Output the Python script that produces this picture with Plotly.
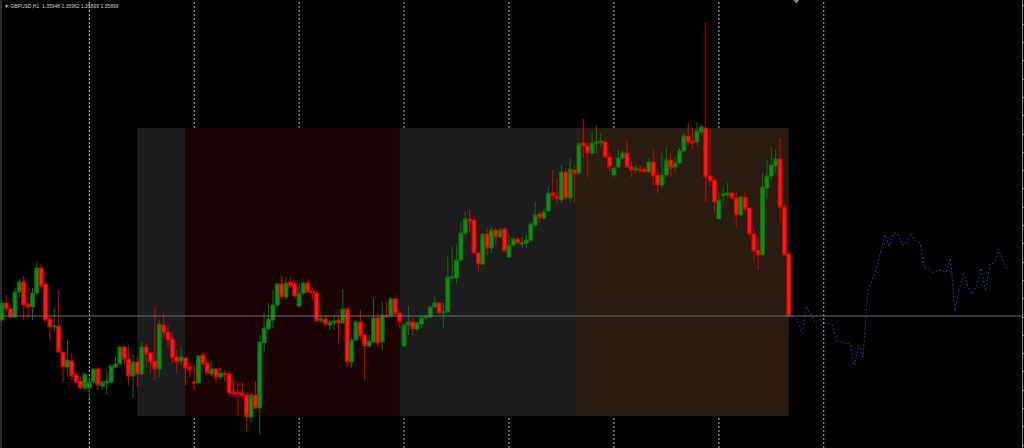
import plotly.graph_objects as go

# ---------------- data (GBPUSD H1) ----------------
open_prices = [
    1.3586, 1.3603, 1.3597, 1.3589, 1.3614, 1.3624, 1.3602, 1.3599, 1.3613, 1.3638,
    1.3622, 1.3587, 1.3579, 1.3580, 1.3554, 1.3539, 1.3545, 1.3531, 1.3525, 1.3518,
    1.3518, 1.3524, 1.3537, 1.3520, 1.3523, 1.3524, 1.3539, 1.3542, 1.3559, 1.3547,
    1.3530, 1.3544, 1.3532, 1.3559, 1.3553, 1.3545, 1.3537, 1.3581, 1.3574, 1.3567,
    1.3549, 1.3545, 1.3548, 1.3539, 1.3524, 1.3523, 1.3551, 1.3543, 1.3532, 1.3537,
    1.3529, 1.3533, 1.3532, 1.3514, 1.3514, 1.3513, 1.3511, 1.3489, 1.3511, 1.3498,
    1.3563, 1.3577, 1.3586, 1.3601, 1.3622, 1.3609, 1.3624, 1.3622, 1.3600, 1.3613,
    1.3623, 1.3615, 1.3613, 1.3585, 1.3587, 1.3581, 1.3583, 1.3586, 1.3583, 1.3597,
    1.3544, 1.3566, 1.3584, 1.3571, 1.3560, 1.3564, 1.3588, 1.3564, 1.3591, 1.3590,
    1.3607, 1.3593, 1.3560, 1.3581, 1.3584, 1.3577, 1.3582, 1.3588, 1.3589, 1.3599,
    1.3603, 1.3593, 1.3594, 1.3628, 1.3628, 1.3646, 1.3673, 1.3687, 1.3686, 1.3653,
    1.3642, 1.3672, 1.3658, 1.3676, 1.3669, 1.3677, 1.3649, 1.3661, 1.3667, 1.3662,
    1.3663, 1.3666, 1.3681, 1.3692, 1.3688, 1.3695, 1.3713, 1.3710, 1.3706, 1.3734,
    1.3708, 1.3736, 1.3733, 1.3763, 1.3760, 1.3753, 1.3762, 1.3763, 1.3764, 1.3749,
    1.3731, 1.3739, 1.3748, 1.3753, 1.3739, 1.3736, 1.3737, 1.3737, 1.3734, 1.3744,
    1.3731, 1.3721, 1.3731, 1.3746, 1.3739, 1.3743, 1.3755, 1.3770, 1.3765, 1.3764,
    1.3774, 1.3778, 1.3730, 1.3726, 1.3687, 1.3710, 1.3711, 1.3713, 1.3708, 1.3691,
    1.3709, 1.3698, 1.3672, 1.3656, 1.3651, 1.3718, 1.3730, 1.3740, 1.3747, 1.3699,
    1.3652,
]
high_prices = [
    1.3606, 1.3611, 1.3598, 1.3618, 1.3627, 1.3630, 1.3619, 1.3618, 1.3643, 1.3642,
    1.3623, 1.3591, 1.3599, 1.3616, 1.3554, 1.3566, 1.3553, 1.3534, 1.3529, 1.3533,
    1.3529, 1.3538, 1.3539, 1.3526, 1.3534, 1.3541, 1.3549, 1.3560, 1.3560, 1.3561,
    1.3553, 1.3549, 1.3564, 1.3563, 1.3554, 1.3599, 1.3586, 1.3593, 1.3581, 1.3573,
    1.3556, 1.3558, 1.3549, 1.3543, 1.3541, 1.3551, 1.3554, 1.3544, 1.3544, 1.3538,
    1.3538, 1.3535, 1.3533, 1.3528, 1.3524, 1.3523, 1.3513, 1.3513, 1.3525, 1.3571,
    1.3593, 1.3603, 1.3616, 1.3623, 1.3630, 1.3629, 1.3629, 1.3625, 1.3623, 1.3624,
    1.3625, 1.3618, 1.3614, 1.3594, 1.3591, 1.3586, 1.3591, 1.3589, 1.3617, 1.3598,
    1.3568, 1.3586, 1.3596, 1.3572, 1.3571, 1.3607, 1.3593, 1.3604, 1.3604, 1.3609,
    1.3608, 1.3594, 1.3583, 1.3600, 1.3588, 1.3584, 1.3591, 1.3592, 1.3600, 1.3609,
    1.3604, 1.3603, 1.3650, 1.3659, 1.3661, 1.3684, 1.3694, 1.3696, 1.3691, 1.3654,
    1.3673, 1.3678, 1.3679, 1.3678, 1.3679, 1.3679, 1.3671, 1.3669, 1.3669, 1.3669,
    1.3671, 1.3684, 1.3704, 1.3694, 1.3697, 1.3719, 1.3736, 1.3728, 1.3741, 1.3738,
    1.3748, 1.3741, 1.3764, 1.3787, 1.3763, 1.3773, 1.3780, 1.3773, 1.3768, 1.3754,
    1.3739, 1.3756, 1.3756, 1.3765, 1.3745, 1.3741, 1.3741, 1.3739, 1.3748, 1.3756,
    1.3734, 1.3753, 1.3759, 1.3753, 1.3749, 1.3758, 1.3773, 1.3783, 1.3778, 1.3783,
    1.3781, 1.3883, 1.3776, 1.3728, 1.3714, 1.3719, 1.3723, 1.3714, 1.3714, 1.3710,
    1.3714, 1.3699, 1.3678, 1.3669, 1.3733, 1.3746, 1.3758, 1.3756, 1.3768, 1.3702,
    1.3654,
]
low_prices = [
    1.3584, 1.3594, 1.3587, 1.3588, 1.3609, 1.3586, 1.3588, 1.3586, 1.3611, 1.3616,
    1.3584, 1.3565, 1.3574, 1.3554, 1.3524, 1.3529, 1.3526, 1.3523, 1.3516, 1.3516,
    1.3508, 1.3523, 1.3516, 1.3516, 1.3511, 1.3523, 1.3538, 1.3541, 1.3541, 1.3521,
    1.3508, 1.3519, 1.3531, 1.3539, 1.3533, 1.3526, 1.3529, 1.3568, 1.3559, 1.3543,
    1.3533, 1.3541, 1.3521, 1.3529, 1.3516, 1.3522, 1.3540, 1.3531, 1.3529, 1.3523,
    1.3526, 1.3524, 1.3510, 1.3509, 1.3490, 1.3507, 1.3474, 1.3483, 1.3497, 1.3471,
    1.3554, 1.3576, 1.3578, 1.3599, 1.3607, 1.3606, 1.3618, 1.3608, 1.3598, 1.3611,
    1.3613, 1.3606, 1.3584, 1.3583, 1.3579, 1.3576, 1.3576, 1.3563, 1.3582, 1.3539,
    1.3538, 1.3564, 1.3566, 1.3526, 1.3558, 1.3563, 1.3560, 1.3556, 1.3588, 1.3588,
    1.3591, 1.3578, 1.3559, 1.3571, 1.3571, 1.3574, 1.3578, 1.3586, 1.3588, 1.3598,
    1.3592, 1.3578, 1.3593, 1.3624, 1.3623, 1.3644, 1.3671, 1.3674, 1.3652, 1.3634,
    1.3641, 1.3651, 1.3653, 1.3661, 1.3668, 1.3654, 1.3648, 1.3659, 1.3661, 1.3658,
    1.3658, 1.3664, 1.3679, 1.3683, 1.3686, 1.3694, 1.3706, 1.3701, 1.3703, 1.3706,
    1.3704, 1.3703, 1.3731, 1.3748, 1.3729, 1.3751, 1.3753, 1.3759, 1.3748, 1.3734,
    1.3729, 1.3738, 1.3746, 1.3738, 1.3729, 1.3733, 1.3733, 1.3733, 1.3733, 1.3721,
    1.3713, 1.3718, 1.3729, 1.3729, 1.3734, 1.3741, 1.3754, 1.3761, 1.3757, 1.3761,
    1.3771, 1.3704, 1.3720, 1.3694, 1.3687, 1.3703, 1.3708, 1.3707, 1.3679, 1.3690,
    1.3694, 1.3668, 1.3645, 1.3636, 1.3651, 1.3707, 1.3726, 1.3733, 1.3683, 1.3650,
    1.3589,
]
close_prices = [
    1.3603, 1.3597, 1.3589, 1.3614, 1.3624, 1.3601, 1.3599, 1.3613, 1.3638, 1.3620,
    1.3586, 1.3579, 1.3580, 1.3554, 1.3539, 1.3546, 1.3530, 1.3524, 1.3518, 1.3532,
    1.3524, 1.3537, 1.3521, 1.3524, 1.3525, 1.3540, 1.3542, 1.3559, 1.3547, 1.3530,
    1.3544, 1.3532, 1.3559, 1.3552, 1.3544, 1.3537, 1.3582, 1.3573, 1.3566, 1.3548,
    1.3544, 1.3549, 1.3538, 1.3536, 1.3523, 1.3550, 1.3542, 1.3533, 1.3537, 1.3529,
    1.3533, 1.3531, 1.3513, 1.3512, 1.3512, 1.3510, 1.3489, 1.3511, 1.3498, 1.3564,
    1.3578, 1.3587, 1.3601, 1.3622, 1.3609, 1.3623, 1.3620, 1.3610, 1.3613, 1.3623,
    1.3614, 1.3613, 1.3585, 1.3587, 1.3582, 1.3584, 1.3585, 1.3583, 1.3597, 1.3544,
    1.3566, 1.3584, 1.3570, 1.3560, 1.3565, 1.3588, 1.3563, 1.3591, 1.3589, 1.3607,
    1.3592, 1.3584, 1.3581, 1.3584, 1.3577, 1.3583, 1.3588, 1.3590, 1.3599, 1.3603,
    1.3593, 1.3595, 1.3629, 1.3629, 1.3646, 1.3673, 1.3687, 1.3685, 1.3653, 1.3642,
    1.3672, 1.3658, 1.3676, 1.3669, 1.3676, 1.3655, 1.3661, 1.3667, 1.3663, 1.3663,
    1.3666, 1.3682, 1.3691, 1.3688, 1.3694, 1.3713, 1.3710, 1.3707, 1.3734, 1.3708,
    1.3737, 1.3732, 1.3762, 1.3760, 1.3753, 1.3763, 1.3764, 1.3765, 1.3749, 1.3739,
    1.3738, 1.3748, 1.3753, 1.3739, 1.3736, 1.3738, 1.3735, 1.3734, 1.3744, 1.3730,
    1.3721, 1.3731, 1.3746, 1.3738, 1.3743, 1.3755, 1.3770, 1.3764, 1.3763, 1.3775,
    1.3779, 1.3729, 1.3725, 1.3704, 1.3706, 1.3712, 1.3713, 1.3708, 1.3691, 1.3709,
    1.3697, 1.3672, 1.3655, 1.3651, 1.3719, 1.3730, 1.3741, 1.3747, 1.3699, 1.3651,
    1.3590,
]

# projected path drawn after the last bar (one value per bar slot)
forecast_start = 180
forecast = [
    1.3592, 1.3589, 1.3586, 1.3573, 1.3600, 1.3591, 1.3583, 1.3587, 1.3582, 1.3583,
    1.3581, 1.3565, 1.3564, 1.3563, 1.3562, 1.3541, 1.3561, 1.3549, 1.3614, 1.3626,
    1.3636, 1.3654, 1.3671, 1.3660, 1.3673, 1.3672, 1.3661, 1.3663, 1.3673, 1.3665,
    1.3663, 1.3638, 1.3637, 1.3633, 1.3635, 1.3636, 1.3634, 1.3648, 1.3595, 1.3617,
    1.3634, 1.3619, 1.3612, 1.3621, 1.3638, 1.3615, 1.3642, 1.3643, 1.3657, 1.3644,
    1.3637,
]

# day separators (bar index)
separators = [20, 44, 68, 92, 116, 140, 164, 188]

# shaded time zones (bar index) and their price band
zone_start = [31, 42, 91, 131]
zone_end = [42, 91, 131, 180]
zone_colors = ["#1c1c1c", "#1b0303", "#1c1c1c", "#2a1b11"]
zone_top = 1.3778
zone_bottom = 1.3490

bid_price = 1.3590
header_text = "\u25BC GBPUSD,H1  1.35948 1.35962 1.35899 1.35899"

x_range = [-0.425, 233.34]
y_range = [1.3458, 1.3906]

# ---------------- figure ----------------
bars = list(range(len(close_prices)))
fc_x = list(range(forecast_start, forecast_start + len(forecast)))

fig = go.Figure()

fig.add_trace(go.Candlestick(
    x=bars, open=open_prices, high=high_prices, low=low_prices, close=close_prices,
    increasing=dict(line=dict(color="#0c6f0c", width=1), fillcolor="#148c14"),
    decreasing=dict(line=dict(color="#d40000", width=1), fillcolor="#ff1616"),
    whiskerwidth=0, showlegend=False, hoverinfo="skip",
))

fig.add_trace(go.Scatter(
    x=fc_x, y=forecast, mode="lines",
    line=dict(color="#2a3aa0", width=1, dash="2px,2px"),
    showlegend=False, hoverinfo="skip",
))

for s, e, c in zip(zone_start, zone_end, zone_colors):
    fig.add_shape(type="rect", x0=s, x1=e, y0=zone_bottom, y1=zone_top,
                  fillcolor=c, line=dict(width=0), layer="below")

for i in separators:
    fig.add_shape(type="line", x0=i, x1=i, y0=0, y1=1, yref="paper",
                  line=dict(color="#b8b8b8", width=1, dash="2px,2px"), layer="below")

# left window border
fig.add_shape(type="line", xref="paper", yref="paper", x0=0.001, x1=0.001, y0=0, y1=1,
              line=dict(color="#5a5a5a", width=1), layer="below")

# bid line
fig.add_shape(type="line", xref="paper", x0=0, x1=1, y0=bid_price, y1=bid_price,
              line=dict(color="#6c6c80", width=1), layer="above")

# chart shift marker
fig.add_shape(type="path", xref="paper", yref="paper",
              path="M 0.7765 1 L 0.7820 1 L 0.77925 0.992 Z",
              fillcolor="#8a8a8a", line=dict(width=0), layer="above")

fig.add_annotation(text=header_text, xref="paper", yref="paper", x=0, y=1,
                   xanchor="left", yanchor="top", xshift=2, yshift=-1, showarrow=False,
                   font=dict(family="Liberation Sans", size=5, color="#d0d0d0"))

fig.update_layout(
    width=1024, height=448,
    margin=dict(l=0, r=2, t=0, b=0, pad=0),
    paper_bgcolor="#000000", plot_bgcolor="#000000",
    boxgap=0.1, boxgroupgap=0.0,
    showlegend=False,
    xaxis=dict(range=x_range, visible=False, showgrid=False, zeroline=False,
               rangeslider=dict(visible=False), fixedrange=True),
    yaxis=dict(range=y_range, side="right", showgrid=False, zeroline=False,
               showline=True, linecolor="#8a8a8a", linewidth=1,
               ticks="outside", ticklen=3, tickcolor="#8a8a8a",
               tick0=1.3589, dtick=0.00183, showticklabels=False, fixedrange=True),
)

fig.write_html(
    "out.html",
    config={"displayModeBar": False, "staticPlot": True},
    post_script="document.body.style.margin='0px';document.body.style.overflow='hidden';document.body.style.background='#000';",
)
